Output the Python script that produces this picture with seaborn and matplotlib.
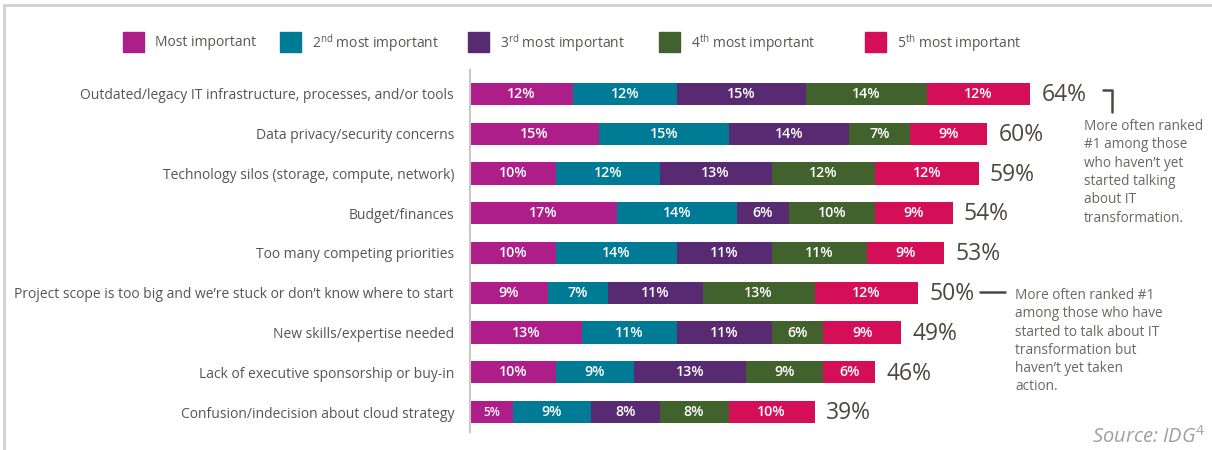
import numpy as np
import pandas as pd
import matplotlib.pyplot as plt
import matplotlib.patches as mpatches
import matplotlib.lines as mlines
import seaborn as sns

# ---- data ----
categories = [
    "Outdated/legacy IT infrastructure, processes, and/or tools",
    "Data privacy/security concerns",
    "Technology silos (storage, compute, network)",
    "Budget/finances",
    "Too many competing priorities",
    "Project scope is too big and we\u2019re stuck or don\u2019t know where to start",
    "New skills/expertise needed",
    "Lack of executive sponsorship or buy-in",
    "Confusion/indecision about cloud strategy",
]
rank1 = [12, 15, 10, 17, 10, 9, 13, 10, 5]
rank2 = [12, 15, 12, 14, 14, 7, 11, 9, 9]
rank3 = [15, 14, 13, 6, 11, 11, 11, 13, 8]
rank4 = [14, 7, 12, 10, 11, 13, 6, 9, 8]
rank5 = [12, 9, 12, 9, 9, 12, 9, 6, 10]
totals = [64, 60, 59, 54, 53, 50, 49, 46, 39]

rank_names = ["Most important", "2$^{\\mathrm{nd}}$ most important",
              "3$^{\\mathrm{rd}}$ most important", "4$^{\\mathrm{th}}$ most important",
              "5$^{\\mathrm{th}}$ most important"]
colors = ["#AE1E88", "#007B96", "#582A72", "#41622D", "#D50F57"]

# ---- styling ----
sns.set_theme(style="white")
plt.rcParams["font.family"] = ["Open Sans", "DejaVu Sans"]
plt.rcParams["mathtext.fontset"] = "custom"
plt.rcParams["mathtext.rm"] = "Open Sans"
plt.rcParams["mathtext.it"] = "Open Sans:italic"

df = pd.DataFrame({"category": categories, "r1": rank1, "r2": rank2,
                   "r3": rank3, "r4": rank4, "r5": rank5})
ranks = ["r1", "r2", "r3", "r4", "r5"]
cum = df[ranks].cumsum(axis=1)

fig = plt.figure(figsize=(12.12, 4.5), dpi=100)
ax = fig.add_axes([470 / 1212, 1 - 432 / 450, 1 - 470 / 1212, (432 - 70) / 450])

# stacked bars: draw cumulative totals from the longest down
for k in range(4, -1, -1):
    sns.barplot(x=cum[ranks[k]], y=df["category"], color=colors[k], orient="h",
                width=0.56, saturation=1, ax=ax, linewidth=0)

# segment labels + totals
for i in range(len(categories)):
    for k, r in enumerate(ranks):
        v = df[r].iloc[i]
        xc = cum[r].iloc[i] - v / 2
        ax.text(xc, i, f"{v}%", ha="center", va="center", color="white",
                fontsize=10.3 if v >= 6 else 8.5, fontweight="semibold")
    ax.text(cum["r5"].iloc[i] + 1.3, i + 0.03, f"{totals[i]}%", ha="left", va="center",
            color="#4d4642", fontsize=16.5)

ax.set_xlim(0, (1212 - 470) / 8.62)
ax.set_ylim(8.5, -0.6)
ax.set_xlabel("")
ax.set_ylabel("")
ax.set_xticks([])
ax.tick_params(axis="y", length=0, pad=11.5)
for lbl in ax.get_yticklabels():
    lbl.set_fontsize(10)
    lbl.set_color("#555555")
for s in ["top", "right", "bottom"]:
    ax.spines[s].set_visible(False)
ax.spines["left"].set_color("#c8c8c8")
ax.spines["left"].set_linewidth(1.5)

# outer frame lines
fig.add_artist(mlines.Line2D([4 / 1212, 4 / 1212], [0, 1 - 5 / 450], color="#d0d0d0", lw=2))
fig.add_artist(mlines.Line2D([4 / 1212, 1], [1 - 5 / 450, 1 - 5 / 450], color="#d0d0d0", lw=2))

# legend
sq_x = [123, 280, 468, 659, 865]
for k in range(5):
    fig.add_artist(mpatches.Rectangle((sq_x[k] / 1212, 1 - 52 / 450), 21 / 1212, 20 / 450,
                                      color=colors[k], transform=fig.transFigure))
    fig.text((sq_x[k] + 32) / 1212, 1 - 43 / 450, rank_names[k], ha="left", va="center",
             fontsize=10, color="#5a5552")

# annotations
fig.add_artist(mlines.Line2D([1103 / 1212, 1112 / 1212, 1112 / 1212],
                             [1 - 90 / 450, 1 - 90 / 450, 1 - 112 / 450],
                             color="#4d4642", lw=1.8))
fig.text(1084 / 1212, 1 - 119 / 450,
         "More often ranked\n#1 among those\nwho haven\u2019t yet\nstarted talking\nabout IT\ntransformation.",
         ha="left", va="top", fontsize=9.8, color="#6b6663", linespacing=1.3)
fig.add_artist(mlines.Line2D([980 / 1212, 1005 / 1212], [1 - 292 / 450, 1 - 292 / 450],
                             color="#4d4642", lw=1.8))
fig.text(1015 / 1212, 1 - 288 / 450,
         "More often ranked #1\namong those who have\nstarted to talk about IT\ntransformation but\nhaven\u2019t yet taken\naction.",
         ha="left", va="top", fontsize=9.8, color="#6b6663", linespacing=1.3)

fig.text(1205 / 1212, 1 - 437 / 450, "Source: IDG$^{4}$", ha="right", va="center",
         fontsize=14.5, color="#a0a0a0", style="italic")

fig.savefig("out.png", dpi=100)
